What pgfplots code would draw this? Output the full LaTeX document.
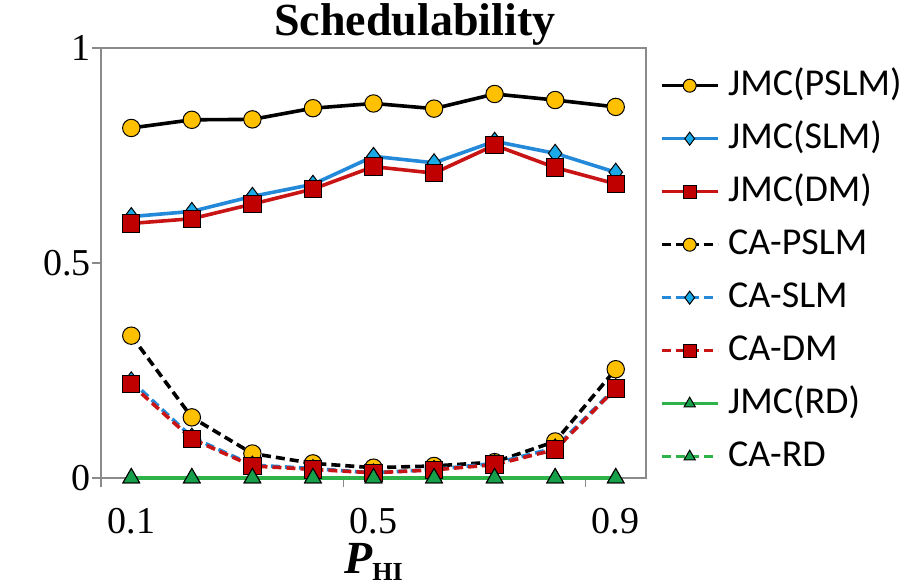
\documentclass[border=0pt]{standalone}
\usepackage{pgfplots}
\pgfplotsset{compat=1.18}
\usepackage{fontspec}
\setmainfont{Liberation Serif}
\newfontfamily\legfont{Carlito}
\definecolor{gold}{HTML}{FFC000}
\definecolor{bline}{HTML}{2389D8}
\definecolor{bfill}{HTML}{1AAAE8}
\definecolor{rline}{HTML}{C81414}
\definecolor{rfill}{HTML}{C00000}
\definecolor{gline}{HTML}{2DB34A}
\definecolor{gfill}{HTML}{16A04A}
\definecolor{axgray}{HTML}{8A8A8A}
\begin{document}
\begin{tikzpicture}
\begin{axis}[name=ax,
  scale only axis, width=545pt, height=430pt,
  xmin=0.5, xmax=9.5, ymin=0, ymax=1,
  clip=false,
  axis line style={axgray, line width=1.2pt},
  tick style={axgray, line width=1.2pt},
  tick align=outside, xtick pos=bottom, ytick pos=left,
  major tick length=9pt,
  xtick={0.5,4.5,8.5}, xticklabels={},
  extra x ticks={1,5,9}, extra x tick labels={0.1,0.5,0.9},
  extra x tick style={major tick length=0pt},
  ytick={0,0.5,1}, yticklabels={0,0.5,1},
  /pgf/number format/assume math mode=true,
  ticklabel style={font=\fontsize{38}{38}\selectfont, inner sep=0pt},
  xticklabel style={anchor=north, yshift=-30pt},
  yticklabel style={anchor=east, xshift=-1pt},
  title={\textbf{Schedulability}},
  title style={at={(axis description cs:0.576,1)}, anchor=base, yshift=6pt, font=\fontsize{46}{46}\selectfont, inner sep=0pt},
  xlabel={{\bfseries\itshape P}\raisebox{-7pt}{\fontsize{26}{26}\selectfont\bfseries HI}},
  xlabel style={at={(axis description cs:0.5,0)}, anchor=base, yshift=-95pt, font=\fontsize{46}{46}\selectfont, inner sep=0pt},
  legend style={draw=none, fill=none, at={(1,1)}, anchor=north west, xshift=11pt, yshift=-17pt,
    font=\legfont\fontsize{38}{38}\selectfont, row sep=16pt,
    nodes={inner sep=0pt, text height=28pt, text depth=9pt},
    /tikz/every odd column/.append style={column sep=9pt}},
  legend cell align=left,
  legend image code/.code={\draw[mark repeat=2,mark phase=2,#1,mark size=6.5pt,line width=3pt] plot coordinates {(0pt,0pt)(28pt,0pt)(56pt,0pt)};},
  every axis plot/.append style={line width=3.6pt},
  dsh/.style={dash pattern=on 9pt off 5pt},
]
\addplot[black, mark=*, mark size=8.7pt, mark options={solid, fill=gold, draw=black, line width=1pt}]
  coordinates {(1,0.814)(2,0.833)(3,0.834)(4,0.860)(5,0.871)(6,0.859)(7,0.893)(8,0.879)(9,0.863)};
\addlegendentry{JMC(PSLM)}
\addplot[bline, mark=diamond*, mark size=9pt, mark options={solid, fill=bfill, draw=black, line width=1pt}]
  coordinates {(1,0.608)(2,0.620)(3,0.655)(4,0.683)(5,0.748)(6,0.733)(7,0.783)(8,0.755)(9,0.711)};
\addlegendentry{JMC(SLM)}
\addplot[rline, mark=square*, mark size=8.7pt, mark options={solid, fill=rfill, draw=black, line width=1pt}]
  coordinates {(1,0.592)(2,0.603)(3,0.637)(4,0.672)(5,0.724)(6,0.709)(7,0.774)(8,0.722)(9,0.684)};
\addlegendentry{JMC(DM)}
\addplot[black, dsh, mark=*, mark size=8.7pt, mark options={solid, fill=gold, draw=black, line width=1pt}]
  coordinates {(1,0.331)(2,0.141)(3,0.057)(4,0.034)(5,0.024)(6,0.028)(7,0.037)(8,0.085)(9,0.253)};
\addlegendentry{CA-PSLM}
\addplot[bline, dsh, mark=diamond*, mark size=9pt, mark options={solid, fill=bfill, draw=black, line width=1pt}]
  coordinates {(1,0.226)(2,0.095)(3,0.030)(4,0.022)(5,0.012)(6,0.020)(7,0.034)(8,0.070)(9,0.210)};
\addlegendentry{CA-SLM}
\addplot[rline, dsh, mark=square*, mark size=8.7pt, mark options={solid, fill=rfill, draw=black, line width=1pt}]
  coordinates {(1,0.218)(2,0.091)(3,0.028)(4,0.020)(5,0.012)(6,0.019)(7,0.031)(8,0.066)(9,0.208)};
\addlegendentry{CA-DM}
\addplot[gline, mark=triangle*, mark size=9.5pt, mark options={solid, fill=gfill, draw=black, line width=1pt}]
  coordinates {(1,0)(2,0)(3,0)(4,0)(5,0)(6,0)(7,0)(8,0)(9,0)};
\addlegendentry{JMC(RD)}
\addplot[gline, dsh, mark=triangle*, mark size=9.5pt, mark options={solid, fill=gfill, draw=black, line width=1pt}]
  coordinates {(1,0)(2,0)(3,0)(4,0)(5,0)(6,0)(7,0)(8,0)(9,0)};
\addlegendentry{CA-RD}
\end{axis}
\path ([xshift=-101pt,yshift=-108pt]ax.south west) rectangle ([xshift=260pt,yshift=48pt]ax.north east);
\end{tikzpicture}
\end{document}
